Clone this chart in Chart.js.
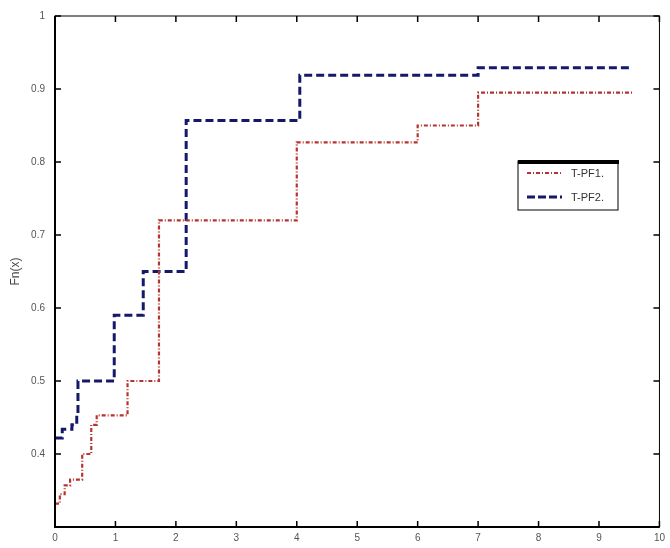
<!DOCTYPE html>
<html>
<head>
<meta charset="utf-8">
<script src="https://cdn.jsdelivr.net/npm/chart.js@4"></script>
<style>
  html, body { margin: 0; padding: 0; background: #fff; }
  canvas { display: block; }
</style>
</head>
<body>
<canvas id="cdfChart" width="670" height="548"></canvas>
<script>
// step points: x where the curve jumps, y = new level
const pf1X = [0, 0.08, 0.16, 0.25, 0.45, 0.6, 0.69, 1.2, 1.72, 4, 6, 7, 9.55];
const pf1Y = [0.332, 0.345, 0.357, 0.365, 0.40, 0.44, 0.453, 0.50, 0.72, 0.827, 0.85, 0.895, 0.895];
const pf2X = [0, 0.12, 0.28, 0.36, 0.38, 0.98, 1.46, 2.17, 4.05, 7, 9.55];
const pf2Y = [0.422, 0.434, 0.44, 0.454, 0.50, 0.59, 0.65, 0.857, 0.919, 0.929, 0.929];
const xTicks = [0, 1, 2, 3, 4, 5, 6, 7, 8, 9, 10];
const yTicks = [0.3, 0.4, 0.5, 0.6, 0.7, 0.8, 0.9, 1];
const seriesNames = ['T-PF1.', 'T-PF2.'];

const red = '#b5352e';
const navy = '#16186a';

function toPoints(xs, ys) {
  return xs.map((x, i) => ({ x: x, y: ys[i] }));
}

// box + inward ticks on all four sides, matlab style
const frame = {
  id: 'frame',
  afterDraw(chart) {
    const { ctx, chartArea: a, scales } = chart;
    ctx.save();
    ctx.strokeStyle = '#000';
    ctx.lineWidth = 1;
    ctx.strokeRect(a.left, a.top, a.right - a.left, a.bottom - a.top);
    ctx.lineWidth = 2;
    ctx.beginPath();
    ctx.moveTo(a.left, a.top);
    ctx.lineTo(a.left, a.bottom);
    ctx.lineTo(a.right, a.bottom);
    ctx.stroke();
    ctx.lineWidth = 1.5;
    ctx.beginPath();
    xTicks.forEach(v => {
      const px = scales.x.getPixelForValue(v);
      ctx.moveTo(px, a.bottom); ctx.lineTo(px, a.bottom - 6);
      ctx.moveTo(px, a.top); ctx.lineTo(px, a.top + 6);
    });
    yTicks.forEach(v => {
      const py = scales.y.getPixelForValue(v);
      ctx.moveTo(a.left, py); ctx.lineTo(a.left + 6, py);
      ctx.moveTo(a.right, py); ctx.lineTo(a.right - 6, py);
    });
    ctx.stroke();

    // legend box
    const lx = 518, ly = 161, lw = 100, lh = 49;
    ctx.fillStyle = '#fff';
    ctx.fillRect(lx, ly, lw, lh);
    ctx.lineWidth = 1;
    ctx.strokeRect(lx, ly, lw, lh);
    ctx.fillStyle = '#000';
    ctx.fillRect(lx, ly - 1, lw + 1, 4);
    const items = [
      { color: red, width: 2, dash: [4, 2, 1, 2], y: 173 },
      { color: navy, width: 3, dash: [8, 3], y: 197 }
    ];
    ctx.font = '11px "Liberation Sans", Arial, sans-serif';
    ctx.textBaseline = 'middle';
    items.forEach((it, i) => {
      ctx.strokeStyle = it.color;
      ctx.lineWidth = it.width;
      ctx.setLineDash(it.dash);
      ctx.beginPath();
      ctx.moveTo(527, it.y);
      ctx.lineTo(562, it.y);
      ctx.stroke();
      ctx.setLineDash([]);
      ctx.fillStyle = '#333';
      ctx.fillText(seriesNames[i], 571, it.y + 1);
    });
    ctx.restore();
  }
};

const ctx = document.getElementById('cdfChart').getContext('2d');
new Chart(ctx, {
  type: 'line',
  data: {
    datasets: [
      {
        label: seriesNames[0],
        data: toPoints(pf1X, pf1Y),
        borderColor: red,
        borderWidth: 2.2,
        borderDash: [4, 2, 1, 2],
        stepped: true,
        pointRadius: 0,
        fill: false
      },
      {
        label: seriesNames[1],
        data: toPoints(pf2X, pf2Y),
        borderColor: navy,
        borderWidth: 3,
        borderDash: [8, 4],
        stepped: true,
        pointRadius: 0,
        fill: false
      }
    ]
  },
  options: {
    responsive: false,
    animation: false,
    layout: { padding: { top: 12, right: 6, left: 0, bottom: 0 } },
    plugins: { legend: { display: false }, tooltip: { enabled: false } },
    scales: {
      x: {
        type: 'linear',
        min: 0,
        max: 10,
        afterFit: s => { s.height = 21; },
        afterBuildTicks: s => { s.ticks = xTicks.map(v => ({ value: v })); },
        grid: { display: false, drawTicks: false },
        border: { display: false },
        ticks: {
          padding: 5,
          color: '#555',
          font: { family: '"Liberation Sans", Arial, sans-serif', size: 10 },
          callback: v => String(v)
        }
      },
      y: {
        type: 'linear',
        min: 0.3,
        max: 1,
        afterFit: s => { s.width = 55; },
        afterBuildTicks: s => { s.ticks = yTicks.map(v => ({ value: v })); },
        grid: { display: false, drawTicks: false },
        border: { display: false },
        title: {
          display: true,
          text: 'Fn(x)',
          color: '#444',
          padding: { top: 8, bottom: 2 },
          font: { family: '"Liberation Sans", Arial, sans-serif', size: 12 }
        },
        ticks: {
          padding: 10,
          color: '#555',
          font: { family: '"Liberation Sans", Arial, sans-serif', size: 10 },
          callback: v => (v === 0.3 ? '' : (v === 1 ? '1' : v.toFixed(1)))
        }
      }
    }
  },
  plugins: [frame]
});
</script>
</body>
</html>
